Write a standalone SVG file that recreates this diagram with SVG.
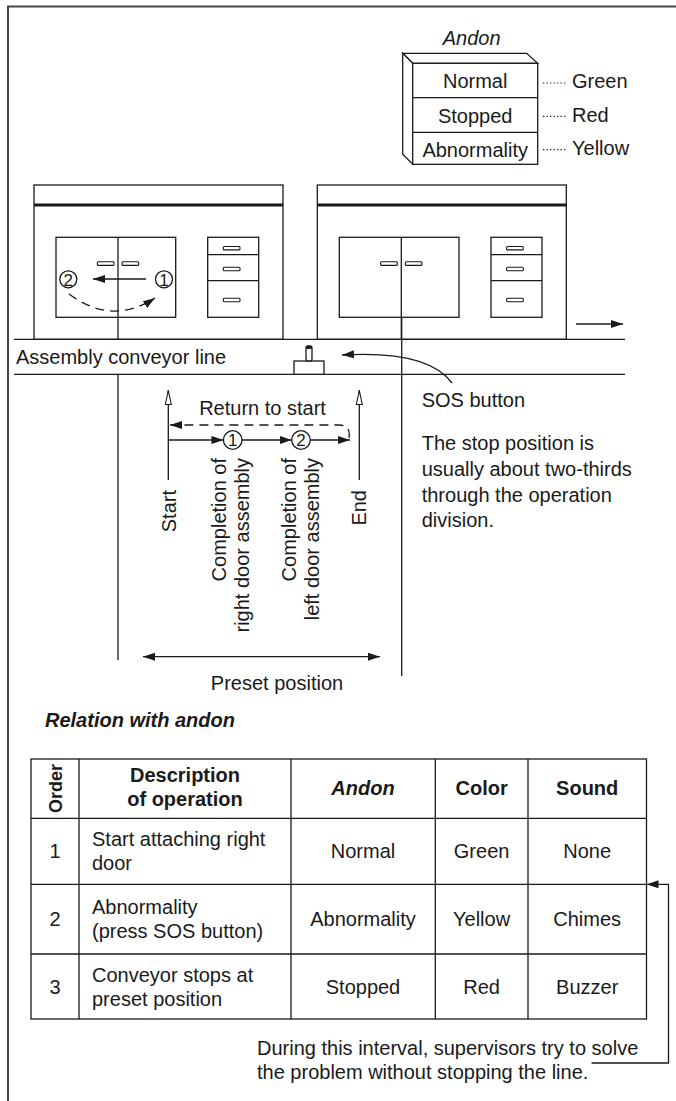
<svg xmlns="http://www.w3.org/2000/svg" width="676" height="1101" viewBox="0 0 676 1101">
  <style>
    .t{font-family:"Liberation Sans",Arial,sans-serif;font-size:20px;fill:#1a1a1a}
    .c{text-anchor:middle}
    .e{text-anchor:end}
    .b{font-weight:bold}
    .i{font-style:italic}
    .num{font-size:17px}
    .ln{stroke:#1a1a1a;stroke-width:1.3;fill:none}
    .thick{stroke:#1a1a1a;stroke-width:3.2;fill:none}
    .box{stroke:#1a1a1a;stroke-width:1.3;fill:#fff}
    .handle{stroke:#1a1a1a;stroke-width:1.1;fill:#fff}
    .dash{stroke:#1a1a1a;stroke-width:1.3;fill:none;stroke-dasharray:9 6}
    .dot{stroke:#1a1a1a;stroke-width:1.2;fill:none;stroke-dasharray:1.3 2.2}
    .frame{stroke:#444;stroke-width:2;fill:none}
  </style>
  <defs>
    <marker id="ah" markerUnits="userSpaceOnUse" viewBox="0 0 12 8" refX="12" refY="4" markerWidth="12" markerHeight="8" orient="auto-start-reverse">
      <path d="M0,0 L12,4 L0,8 z" fill="#1a1a1a"/>
    </marker>
    <marker id="open" markerUnits="userSpaceOnUse" viewBox="0 0 16 8" refX="15.5" refY="4" markerWidth="16" markerHeight="8" orient="auto">
      <path d="M1,1 L15,4 L1,7 z" fill="#fff" stroke="#1a1a1a" stroke-width="1.1"/>
    </marker>
    <!-- car body: roof band, door pair and drawer stack -->
    <g id="carBody">
      <rect class="box" x="34" y="185" width="249" height="154.3"/>
      <line class="thick" x1="34" y1="205" x2="283" y2="205"/>
      <rect class="box" x="56" y="237.3" width="119.7" height="80"/>
      <line class="ln" x1="118" y1="237.3" x2="118" y2="339.3"/>
      <rect class="handle" x="97.3" y="261.8" width="16.7" height="3.6" rx="1"/>
      <rect class="handle" x="122" y="261.8" width="16.7" height="3.6" rx="1"/>
      <rect class="box" x="207.7" y="237.3" width="51" height="80"/>
      <line class="ln" x1="207.7" y1="254.7" x2="258.7" y2="254.7"/>
      <line class="ln" x1="207.7" y1="280.7" x2="258.7" y2="280.7"/>
      <rect class="handle" x="223.3" y="246.5" width="16.7" height="3.4" rx="1"/>
      <rect class="handle" x="223.3" y="267.3" width="16.7" height="3.4" rx="1"/>
      <rect class="handle" x="223.3" y="298.3" width="16.7" height="3.4" rx="1"/>
    </g>
  </defs>

  <!-- page frame -->
  <path class="frame" d="M8,1101 V6.5 H676"/>

  <!-- andon lamp -->
  <g id="andon">
    <text class="t i c" x="471.7" y="45">Andon</text>
    <polygon class="box" points="402.7,53.3 526.7,53.3 537.7,63.3 412.7,63.3"/>
    <polygon class="box" points="402.7,53.3 412.7,63.3 412.7,164.3 402.7,154.3"/>
    <rect class="box" x="412.7" y="63.3" width="125" height="101"/>
    <line class="ln" x1="412.7" y1="97.7" x2="537.7" y2="97.7"/>
    <line class="ln" x1="412.7" y1="132.3" x2="537.7" y2="132.3"/>
    <text class="t c" x="475.2" y="88.3">Normal</text>
    <text class="t c" x="475.2" y="122.7">Stopped</text>
    <text class="t c" x="475.2" y="156.7">Abnormality</text>
    <line class="dot" x1="543" y1="83" x2="567" y2="83"/>
    <line class="dot" x1="543" y1="116.3" x2="567" y2="116.3"/>
    <line class="dot" x1="543" y1="149.7" x2="567" y2="149.7"/>
    <text class="t" x="572" y="88.3">Green</text>
    <text class="t" x="572" y="121.7">Red</text>
    <text class="t" x="572" y="155">Yellow</text>
  </g>

  <!-- car being worked on: door sequence 1 then 2 -->
  <g id="car-left">
    <use href="#carBody"/>
    <circle class="box" cx="68.3" cy="279.3" r="8.5"/>
    <text class="t c num" x="68.3" y="285.5">2</text>
    <circle class="box" cx="164" cy="279.3" r="8.5"/>
    <text class="t c num" x="164" y="285.5">1</text>
  </g>

  <!-- next car downstream -->
  <g id="car-right">
    <use href="#carBody" transform="translate(283.3,0)"/>
  </g>

  <!-- conveyor band -->
  <g id="conveyor">
    <line class="ln" x1="14" y1="339.3" x2="625" y2="339.3"/>
    <line class="ln" x1="14" y1="374.3" x2="625" y2="374.3"/>
    <text class="t" x="16" y="364">Assembly conveyor line</text>
  </g>

  <!-- SOS push button -->
  <g id="sos-button">
    <rect class="box" x="294" y="361" width="30" height="13.3"/>
    <rect class="box" x="306" y="346" width="6" height="15" rx="2"/>
    <rect x="306" y="346" width="6" height="3" rx="1.5" fill="#1a1a1a"/>
  </g>

  <!-- operation zone markers and labels -->
  <g id="zone">
    <text class="t c" x="262.5" y="415">Return to start</text>
    <circle class="box" cx="232.7" cy="440" r="9.3"/>
    <text class="t c num" x="232.7" y="446">1</text>
    <circle class="box" cx="301" cy="440" r="9.3"/>
    <text class="t c num" x="301" y="446">2</text>
    <text class="t e" transform="translate(176,490) rotate(-90)">Start</text>
    <text class="t e" transform="translate(226.3,458) rotate(-90)">Completion of</text>
    <text class="t e" transform="translate(248.5,458) rotate(-90)">right door assembly</text>
    <text class="t e" transform="translate(296,458) rotate(-90)">Completion of</text>
    <text class="t e" transform="translate(318.5,458) rotate(-90)">left door assembly</text>
    <text class="t e" transform="translate(366,490) rotate(-90)">End</text>
    <text class="t c" x="277" y="690">Preset position</text>
  </g>

  <!-- notes -->
  <g id="notes">
    <text class="t" x="421.7" y="406.7">SOS button</text>
    <text class="t" x="421.7" y="450">The stop position is</text>
    <text class="t" x="421.7" y="476">usually about two-thirds</text>
    <text class="t" x="421.7" y="501.5">through the operation</text>
    <text class="t" x="421.7" y="527">division.</text>
  </g>

  <!-- connectors -->
  <g id="connectors">
    <path class="dash" d="M69,294 Q112,326 155,298" marker-end="url(#ah)"/>
    <line class="ln" x1="146" y1="279" x2="93" y2="279" marker-end="url(#ah)"/>
    <line class="ln" x1="576" y1="324" x2="623" y2="324" marker-end="url(#ah)"/>
    <line class="ln" x1="118" y1="374.3" x2="118" y2="660"/>
    <line class="ln" x1="401.7" y1="317.3" x2="401.7" y2="676"/>
    <path class="ln" d="M452,383 Q428,350 342,355" marker-end="url(#ah)"/>
    <line class="ln" x1="168.3" y1="480" x2="168.3" y2="390" marker-end="url(#open)"/>
    <line class="ln" x1="359.3" y1="480" x2="359.3" y2="390" marker-end="url(#open)"/>
    <path class="dash" d="M349,438 Q351,425 339,425 H170" marker-end="url(#ah)"/>
    <line class="ln" x1="168.3" y1="440" x2="223.4" y2="440" marker-end="url(#ah)"/>
    <line class="ln" x1="242" y1="440" x2="291.7" y2="440" marker-end="url(#ah)"/>
    <line class="ln" x1="310.3" y1="440" x2="350" y2="440" marker-end="url(#ah)"/>
    <line class="ln" x1="143" y1="656.7" x2="380" y2="656.7" marker-start="url(#ah)" marker-end="url(#ah)"/>
    <path class="ln" d="M591.5,1063 H668.5 V884.3 H646.5" marker-end="url(#ah)"/>
  </g>

  <!-- relation table -->
  <g id="table">
    <text class="t b i" x="45" y="727">Relation with andon</text>
    <rect class="ln" x="31" y="759" width="615.5" height="260"/>
    <line class="ln" x1="31" y1="818.3" x2="646.5" y2="818.3"/>
    <line class="ln" x1="31" y1="884.3" x2="646.5" y2="884.3"/>
    <line class="ln" x1="31" y1="954" x2="646.5" y2="954"/>
    <line class="ln" x1="79" y1="759" x2="79" y2="1019"/>
    <line class="ln" x1="291" y1="759" x2="291" y2="1019"/>
    <line class="ln" x1="435.3" y1="759" x2="435.3" y2="1019"/>
    <line class="ln" x1="528" y1="759" x2="528" y2="1019"/>

    <text class="t b c" style="font-size:18px" transform="translate(61.5,788.5) rotate(-90)">Order</text>
    <text class="t b c" x="185" y="782">Description</text>
    <text class="t b c" x="185" y="806">of operation</text>
    <text class="t b i c" x="363" y="795">Andon</text>
    <text class="t b c" x="481.6" y="795">Color</text>
    <text class="t b c" x="587.2" y="795">Sound</text>

    <text class="t c" x="55" y="858">1</text>
    <text class="t" x="92" y="846">Start attaching right</text>
    <text class="t" x="92" y="870">door</text>
    <text class="t c" x="363" y="858">Normal</text>
    <text class="t c" x="481.6" y="858">Green</text>
    <text class="t c" x="587.2" y="858">None</text>

    <text class="t c" x="55" y="926">2</text>
    <text class="t" x="92" y="914">Abnormality</text>
    <text class="t" x="92" y="938">(press SOS button)</text>
    <text class="t c" x="363" y="926">Abnormality</text>
    <text class="t c" x="481.6" y="926">Yellow</text>
    <text class="t c" x="587.2" y="926">Chimes</text>

    <text class="t c" x="55" y="994">3</text>
    <text class="t" x="92" y="982">Conveyor stops at</text>
    <text class="t" x="92" y="1006">preset position</text>
    <text class="t c" x="363" y="994">Stopped</text>
    <text class="t c" x="481.6" y="994">Red</text>
    <text class="t c" x="587.2" y="994">Buzzer</text>
  </g>

  <!-- interval note -->
  <g id="interval-note">
    <text class="t" x="257" y="1055">During this interval, supervisors try to solve</text>
    <text class="t" x="257" y="1079">the problem without stopping the line.</text>
  </g>
</svg>
